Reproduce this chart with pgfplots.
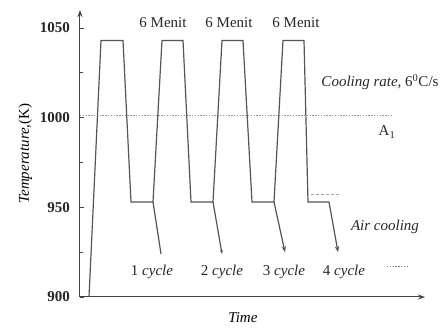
\documentclass[border=0pt]{standalone}
\usepackage{fontspec}
\setmainfont{Liberation Serif}
\usepackage{pgfplots}
\pgfplotsset{compat=1.18}
\usetikzlibrary{arrows.meta}
\definecolor{ln}{HTML}{555555}
\definecolor{ax}{HTML}{444444}
\begin{document}
\fontsize{15}{18}\selectfont
\begin{tikzpicture}
\path[use as bounding box] (-80pt,-32pt) rectangle (367pt,297pt);
\begin{axis}[
  at={(0pt,0pt)}, anchor=south west,
  scale only axis, width=345pt, height=287pt,
  xmin=0, xmax=345, ymin=900, ymax=1060,
  axis lines=left,
  axis line style={draw=ax, line width=1pt, -{Stealth[length=7pt,width=5pt]}},
  xtick=\empty,
  ytick={900,950,1000,1050},
  minor ytick={925,975,1025},
  tick style={draw=ax, line width=0.8pt},
  major tick length=4pt, minor tick length=3pt,
  tick align=inside,
  yticklabel style={font=\bfseries, text=black!85, xshift=-5pt},
  /pgf/number format/assume math mode=true,
  /pgf/number format/set thousands separator={},
  xlabel={\textit{Time}},
  ylabel={\textit{Temperature},(K)},
  xlabel style={at={(axis description cs:0.472,-0.073)}, anchor=center},
  ylabel style={at={(axis description cs:-0.159,0.5)}, anchor=center},
  clip=false,
]
% A1 dashed line
\addplot[gray!85, line width=1.1pt, dash pattern=on 1.4pt off 1.4pt] coordinates {(0,1001) (312,1001)};
% main thermal cycle
\addplot[ln, line width=1.2pt] coordinates {
(9,900) (21,1043) (43,1043) (51,953) (73,953)
(82,1043) (103,1043) (111,953) (133,953)
(142,1043) (163,1043) (172,953) (194,953)
(203,1043) (224,1043) (228,953) (249,953)};
% air cooling branches
\addplot[ln, line width=1.2pt] coordinates {(73,953) (81,924)};
\addplot[ln, line width=1.2pt, -{Stealth[length=4pt,width=3pt]}] coordinates {(133,953) (142,924)};
\addplot[ln, line width=1.2pt, -{Stealth[length=6pt,width=4.5pt]}] coordinates {(194,953) (205,925)};
\addplot[ln, line width=1.2pt, -{Stealth[length=6pt,width=4.5pt]}] coordinates {(249,953) (258,925)};
% small faint marks
\addplot[densely dashed, gray!70, line width=0.8pt] coordinates {(231,957) (260,957)};
\addplot[gray, line width=1.1pt, dash pattern=on 1.4pt off 1.4pt] coordinates {(307,917) (328,917)};
% labels
\node[text=black!85] at (axis cs:83,1053) {6 Menit};
\node[text=black!85] at (axis cs:149,1053) {6 Menit};
\node[text=black!85] at (axis cs:216,1053) {6 Menit};
\node[text=black!85] at (axis cs:300,1020) {\textit{Cooling rate,} 6\textsuperscript{0}C/s};
\node[text=black!85] at (axis cs:307,992) {A\textsubscript{1}};
\node[text=black!85] at (axis cs:305,939) {\textit{Air cooling}};
\node[text=black!85] at (axis cs:72,914) {1 \textit{cycle}};
\node[text=black!85] at (axis cs:142,914) {2 \textit{cycle}};
\node[text=black!85] at (axis cs:204,914) {3 \textit{cycle}};
\node[text=black!85] at (axis cs:264,914) {4 \textit{cycle}};
\end{axis}
\end{tikzpicture}
\end{document}
